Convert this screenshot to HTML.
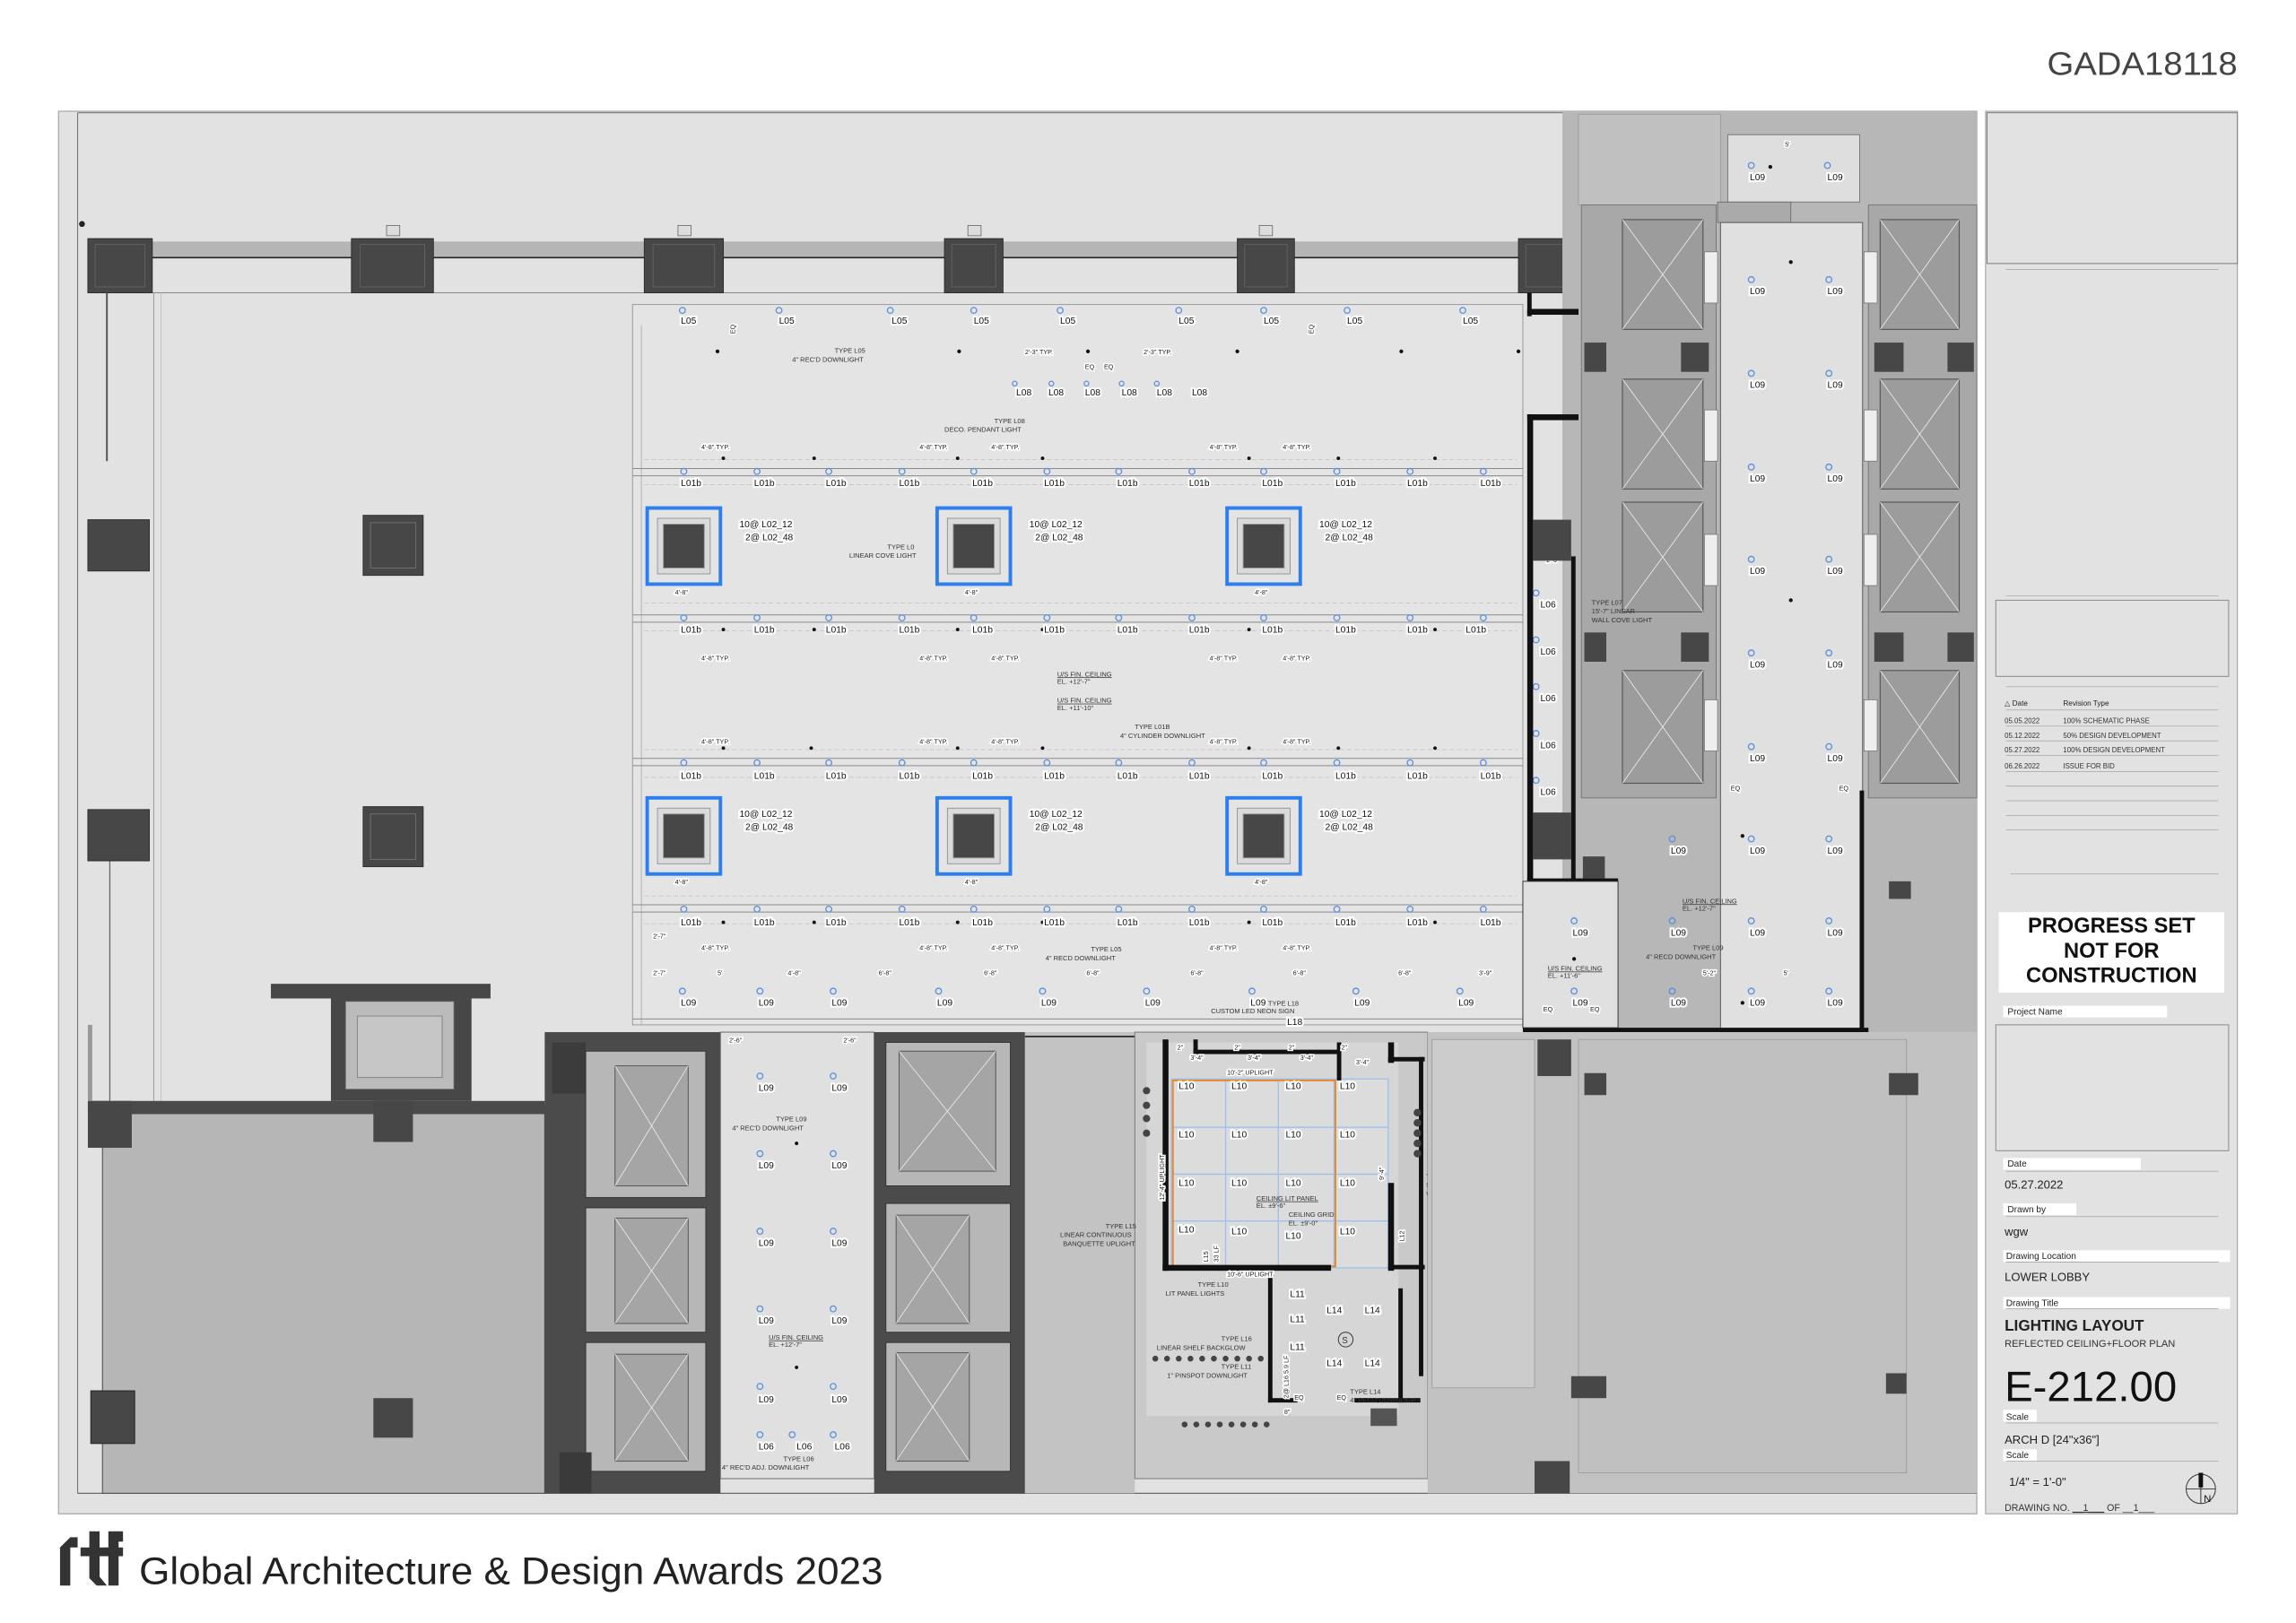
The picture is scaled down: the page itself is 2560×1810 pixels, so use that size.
<!DOCTYPE html>
<html><head><meta charset="utf-8"><style>
html,body{margin:0;padding:0;background:#fff;}
svg{display:block;}
text{font-family:"Liberation Sans",sans-serif;}
.l{font-size:6.3px;fill:#111;stroke:#fff;stroke-width:2.6px;paint-order:stroke;}
.s{font-size:4.6px;fill:#333;}
.d{font-size:4.4px;fill:#222;stroke:#fff;stroke-width:2px;paint-order:stroke;}
.c{fill:none;stroke:#5b8fe0;stroke-width:.8;}
.x{stroke:#eee;stroke-width:.5;}
.tb{font-size:6.2px;fill:#222;}
.tv{font-size:8px;fill:#222;}
</style></head><body>
<svg width="2560" height="1810" viewBox="0 0 1568 1108.6" preserveAspectRatio="none" xmlns="http://www.w3.org/2000/svg">
<rect x="0" y="0" width="1568" height="1109" fill="#fff"/>
<text x="1398" y="51" textLength="130" lengthAdjust="spacingAndGlyphs" style="font-size:22px;fill:#444">GADA18118</text>

<!-- plan frame -->
<rect x="40" y="76" width="1310" height="958" fill="#e2e2e2" stroke="#aaa" stroke-width=".8"/>
<line x1="53" y1="77" x2="53" y2="1020" stroke="#777" stroke-width=".7"/>
<line x1="53" y1="77" x2="1350" y2="77" stroke="#777" stroke-width=".7"/>
<line x1="53" y1="1020" x2="1350" y2="1020" stroke="#666" stroke-width=".8"/>
<circle cx="56" cy="153" r="2" fill="#222"/>

<!-- top beam & columns -->
<rect x="104" y="165" width="936" height="11" fill="#b5b5b5"/>
<line x1="104" y1="176" x2="1040" y2="176" stroke="#222" stroke-width="1"/>
<line x1="104" y1="200" x2="1040" y2="200" stroke="#888" stroke-width=".6"/>
<g fill="#474747" stroke="#2e2e2e" stroke-width=".6">
<rect x="60" y="163" width="44" height="37"/><rect x="240" y="163" width="56" height="37"/>
<rect x="440" y="163" width="54" height="37"/><rect x="645" y="163" width="40" height="37"/>
<rect x="845" y="163" width="39" height="37"/><rect x="1037" y="163" width="41" height="37"/>
</g>
<g fill="none" stroke="#666" stroke-width=".5">
<rect x="65" y="167" width="34" height="29"/><rect x="246" y="167" width="44" height="29"/>
<rect x="446" y="167" width="42" height="29"/><rect x="650" y="167" width="30" height="29"/>
<rect x="850" y="167" width="29" height="29"/><rect x="1042" y="167" width="31" height="29"/>
</g>
<g fill="#ddd" stroke="#666" stroke-width=".5">
<rect x="264" y="154" width="9" height="7"/><rect x="463" y="154" width="9" height="7"/>
<rect x="661" y="154" width="9" height="7"/><rect x="860" y="154" width="9" height="7"/>
</g>
<!-- left wall -->
<line x1="73" y1="200" x2="73" y2="315" stroke="#555" stroke-width="1.2"/>
<line x1="105" y1="200" x2="105" y2="752" stroke="#999" stroke-width=".6"/>
<line x1="110" y1="200" x2="110" y2="752" stroke="#bbb" stroke-width=".5"/>
<line x1="75" y1="588" x2="75" y2="752" stroke="#666" stroke-width=".8"/>
<g fill="#474747" stroke="#2e2e2e" stroke-width=".6">
<rect x="60" y="355" width="42" height="35"/><rect x="60" y="553" width="42" height="35"/>
<rect x="248" y="352" width="41" height="41"/><rect x="248" y="551" width="41" height="41"/>
</g>
<g fill="none" stroke="#777" stroke-width=".5">
<rect x="253" y="357" width="31" height="31"/><rect x="253" y="556" width="31" height="31"/>
</g>

<!-- central ceiling area -->
<rect x="432" y="208" width="608" height="492" fill="#e4e4e4" stroke="#999" stroke-width=".6"/>
<line x1="438" y1="222" x2="438" y2="700" stroke="#aaa" stroke-width=".5"/>
<g stroke="#8a8a8a" stroke-width=".6">
<line x1="432" y1="320" x2="1040" y2="320"/><line x1="432" y1="325" x2="1040" y2="325"/>
<line x1="432" y1="420" x2="1040" y2="420"/><line x1="432" y1="425" x2="1040" y2="425"/>
<line x1="432" y1="518" x2="1040" y2="518"/><line x1="432" y1="523" x2="1040" y2="523"/>
<line x1="432" y1="618" x2="1040" y2="618"/><line x1="432" y1="623" x2="1040" y2="623"/>
<line x1="432" y1="696" x2="1040" y2="696"/>
</g>
<g stroke="#bbb" stroke-width=".4" stroke-dasharray="3 2">
<line x1="440" y1="314" x2="1036" y2="314"/><line x1="440" y1="331" x2="1036" y2="331"/>
<line x1="440" y1="412" x2="1036" y2="412"/><line x1="440" y1="431" x2="1036" y2="431"/>
<line x1="440" y1="512" x2="1036" y2="512"/><line x1="440" y1="531" x2="1036" y2="531"/>
<line x1="440" y1="612" x2="1036" y2="612"/><line x1="440" y1="631" x2="1036" y2="631"/>
</g>

<!-- L05 row -->
<g class="c"><circle cx="466" cy="212" r="2"/><circle cx="532" cy="212" r="2"/><circle cx="608" cy="212" r="2"/><circle cx="665" cy="212" r="2"/><circle cx="724" cy="212" r="2"/><circle cx="805" cy="212" r="2"/><circle cx="863" cy="212" r="2"/><circle cx="920" cy="212" r="2"/><circle cx="999" cy="212" r="2"/></g>
<g class="l"><text x="465" y="221">L05</text><text x="532" y="221">L05</text><text x="609" y="221">L05</text><text x="665" y="221">L05</text><text x="724" y="221">L05</text><text x="805" y="221">L05</text><text x="863" y="221">L05</text><text x="920" y="221">L05</text><text x="999" y="221">L05</text></g>
<g class="d"><text x="495" y="229" transform="rotate(-90 498 225)">EQ</text><text x="890" y="229" transform="rotate(-90 893 225)">EQ</text></g>
<g fill="#111"><circle cx="490" cy="240" r="1.3"/><circle cx="655" cy="240" r="1.3"/><circle cx="743" cy="240" r="1.3"/><circle cx="845" cy="240" r="1.3"/><circle cx="957" cy="240" r="1.3"/><circle cx="1037" cy="240" r="1.3"/></g>
<text class="s" x="570" y="241">TYPE L05</text><text class="s" x="541" y="247">4" REC'D DOWNLIGHT</text>
<g class="d"><text x="700" y="242">2'-3" TYP.</text><text x="781" y="242">2'-3" TYP.</text><text x="741" y="252">EQ</text><text x="754" y="252">EQ</text></g>
<g class="l"><text x="694" y="270">L08</text><text x="716" y="270">L08</text><text x="741" y="270">L08</text><text x="766" y="270">L08</text><text x="790" y="270">L08</text><text x="814" y="270">L08</text></g>
<g class="c"><circle cx="693" cy="262" r="1.6"/><circle cx="718" cy="262" r="1.6"/><circle cx="742" cy="262" r="1.6"/><circle cx="766" cy="262" r="1.6"/><circle cx="790" cy="262" r="1.6"/></g>
<text class="s" x="679" y="289">TYPE L08</text><text class="s" x="645" y="295">DECO. PENDANT LIGHT</text>
<g class="d"><text x="479" y="307">4'-8" TYP.</text><text x="628" y="307">4'-8" TYP.</text><text x="677" y="307">4'-8" TYP.</text><text x="826" y="307">4'-8" TYP.</text><text x="876" y="307">4'-8" TYP.</text>
<text x="479" y="451">4'-8" TYP.</text><text x="628" y="451">4'-8" TYP.</text><text x="677" y="451">4'-8" TYP.</text><text x="826" y="451">4'-8" TYP.</text><text x="876" y="451">4'-8" TYP.</text>
<text x="479" y="508">4'-8" TYP.</text><text x="628" y="508">4'-8" TYP.</text><text x="677" y="508">4'-8" TYP.</text><text x="826" y="508">4'-8" TYP.</text><text x="876" y="508">4'-8" TYP.</text>
<text x="479" y="649">4'-8" TYP.</text><text x="628" y="649">4'-8" TYP.</text><text x="677" y="649">4'-8" TYP.</text><text x="826" y="649">4'-8" TYP.</text><text x="876" y="649">4'-8" TYP.</text>
<text x="446" y="666">2'-7"</text><text x="490" y="666">5'</text><text x="538" y="666">4'-8"</text><text x="600" y="666">6'-8"</text><text x="672" y="666">6'-8"</text><text x="742" y="666">6'-8"</text><text x="813" y="666">6'-8"</text><text x="883" y="666">6'-8"</text><text x="955" y="666">6'-8"</text><text x="1010" y="666">3'-9"</text><text x="446" y="641">2'-7"</text></g>
<g fill="#111"><circle cx="494" cy="313" r="1.2"/><circle cx="556" cy="313" r="1.2"/><circle cx="654" cy="313" r="1.2"/><circle cx="712" cy="313" r="1.2"/><circle cx="853" cy="313" r="1.2"/><circle cx="914" cy="313" r="1.2"/><circle cx="980" cy="313" r="1.2"/>
<circle cx="494" cy="430" r="1.2"/><circle cx="556" cy="430" r="1.2"/><circle cx="654" cy="430" r="1.2"/><circle cx="712" cy="430" r="1.2"/><circle cx="853" cy="430" r="1.2"/><circle cx="914" cy="430" r="1.2"/><circle cx="980" cy="430" r="1.2"/>
<circle cx="494" cy="511" r="1.2"/><circle cx="554" cy="511" r="1.2"/><circle cx="654" cy="511" r="1.2"/><circle cx="712" cy="511" r="1.2"/><circle cx="853" cy="511" r="1.2"/><circle cx="914" cy="511" r="1.2"/><circle cx="980" cy="511" r="1.2"/>
<circle cx="494" cy="630" r="1.2"/><circle cx="556" cy="630" r="1.2"/><circle cx="654" cy="630" r="1.2"/><circle cx="712" cy="630" r="1.2"/><circle cx="853" cy="630" r="1.2"/><circle cx="914" cy="630" r="1.2"/><circle cx="980" cy="630" r="1.2"/></g>

<!-- L01b rows -->
<g class="c">
<circle cx="467" cy="322" r="2"/><circle cx="517" cy="322" r="2"/><circle cx="566" cy="322" r="2"/><circle cx="616" cy="322" r="2"/><circle cx="665" cy="322" r="2"/><circle cx="715" cy="322" r="2"/><circle cx="764" cy="322" r="2"/><circle cx="814" cy="322" r="2"/><circle cx="863" cy="322" r="2"/><circle cx="913" cy="322" r="2"/><circle cx="963" cy="322" r="2"/><circle cx="1013" cy="322" r="2"/>
<circle cx="467" cy="422" r="2"/><circle cx="517" cy="422" r="2"/><circle cx="566" cy="422" r="2"/><circle cx="616" cy="422" r="2"/><circle cx="665" cy="422" r="2"/><circle cx="715" cy="422" r="2"/><circle cx="764" cy="422" r="2"/><circle cx="814" cy="422" r="2"/><circle cx="863" cy="422" r="2"/><circle cx="913" cy="422" r="2"/><circle cx="963" cy="422" r="2"/><circle cx="1013" cy="422" r="2"/>
<circle cx="467" cy="521" r="2"/><circle cx="517" cy="521" r="2"/><circle cx="566" cy="521" r="2"/><circle cx="616" cy="521" r="2"/><circle cx="665" cy="521" r="2"/><circle cx="715" cy="521" r="2"/><circle cx="764" cy="521" r="2"/><circle cx="814" cy="521" r="2"/><circle cx="863" cy="521" r="2"/><circle cx="913" cy="521" r="2"/><circle cx="963" cy="521" r="2"/><circle cx="1013" cy="521" r="2"/>
<circle cx="467" cy="621" r="2"/><circle cx="517" cy="621" r="2"/><circle cx="566" cy="621" r="2"/><circle cx="616" cy="621" r="2"/><circle cx="665" cy="621" r="2"/><circle cx="715" cy="621" r="2"/><circle cx="764" cy="621" r="2"/><circle cx="814" cy="621" r="2"/><circle cx="863" cy="621" r="2"/><circle cx="913" cy="621" r="2"/><circle cx="963" cy="621" r="2"/><circle cx="1013" cy="621" r="2"/>
</g>
<g class="l">
<text x="465" y="332">L01b</text><text x="515" y="332">L01b</text><text x="564" y="332">L01b</text><text x="614" y="332">L01b</text><text x="664" y="332">L01b</text><text x="713" y="332">L01b</text><text x="763" y="332">L01b</text><text x="812" y="332">L01b</text><text x="862" y="332">L01b</text><text x="912" y="332">L01b</text><text x="961" y="332">L01b</text><text x="1011" y="332">L01b</text>
<text x="465" y="432">L01b</text><text x="515" y="432">L01b</text><text x="564" y="432">L01b</text><text x="614" y="432">L01b</text><text x="664" y="432">L01b</text><text x="713" y="432">L01b</text><text x="763" y="432">L01b</text><text x="812" y="432">L01b</text><text x="862" y="432">L01b</text><text x="912" y="432">L01b</text><text x="961" y="432">L01b</text><text x="1001" y="432">L01b</text>
<text x="465" y="532">L01b</text><text x="515" y="532">L01b</text><text x="564" y="532">L01b</text><text x="614" y="532">L01b</text><text x="664" y="532">L01b</text><text x="713" y="532">L01b</text><text x="763" y="532">L01b</text><text x="812" y="532">L01b</text><text x="862" y="532">L01b</text><text x="912" y="532">L01b</text><text x="961" y="532">L01b</text><text x="1011" y="532">L01b</text>
<text x="465" y="632">L01b</text><text x="515" y="632">L01b</text><text x="564" y="632">L01b</text><text x="614" y="632">L01b</text><text x="664" y="632">L01b</text><text x="713" y="632">L01b</text><text x="763" y="632">L01b</text><text x="812" y="632">L01b</text><text x="862" y="632">L01b</text><text x="912" y="632">L01b</text><text x="961" y="632">L01b</text><text x="1011" y="632">L01b</text>
</g>

<!-- blue cove squares -->
<defs>
<g id="cove">
<rect x="-25" y="-26" width="50" height="52" fill="#e4e4e4" stroke="#2d7ff0" stroke-width="2.4"/>
<rect x="-18" y="-19" width="36" height="38" fill="#dadada" stroke="#888" stroke-width=".5"/>
<rect x="-14" y="-15" width="28" height="30" fill="#474747" stroke="#999" stroke-width=".6"/>
</g>
</defs>
<use href="#cove" x="467" y="373"/><use href="#cove" x="665" y="373"/><use href="#cove" x="863" y="373"/>
<use href="#cove" x="467" y="571"/><use href="#cove" x="665" y="571"/><use href="#cove" x="863" y="571"/>
<g class="l">
<text x="505" y="360">10@ L02_12</text><text x="509" y="369">2@ L02_48</text>
<text x="703" y="360">10@ L02_12</text><text x="707" y="369">2@ L02_48</text>
<text x="901" y="360">10@ L02_12</text><text x="905" y="369">2@ L02_48</text>
<text x="505" y="558">10@ L02_12</text><text x="509" y="567">2@ L02_48</text>
<text x="703" y="558">10@ L02_12</text><text x="707" y="567">2@ L02_48</text>
<text x="901" y="558">10@ L02_12</text><text x="905" y="567">2@ L02_48</text>
</g>
<g class="d"><text x="461" y="406">4'-8"</text><text x="659" y="406">4'-8"</text><text x="857" y="406">4'-8"</text><text x="461" y="604">4'-8"</text><text x="659" y="604">4'-8"</text><text x="857" y="604">4'-8"</text></g>
<text class="s" x="606" y="375">TYPE L0</text><text class="s" x="580" y="381">LINEAR COVE LIGHT</text>
<text class="s" x="722" y="462" style="text-decoration:underline">U/S FIN. CEILING</text><text class="s" x="722" y="467">EL. +12'-7"</text>
<text class="s" x="722" y="480" style="text-decoration:underline">U/S FIN. CEILING</text><text class="s" x="722" y="485">EL. +11'-10"</text>
<text class="s" x="775" y="498">TYPE L01B</text><text class="s" x="765" y="504">4" CYLINDER DOWNLIGHT</text>
<text class="s" x="745" y="650">TYPE L05</text><text class="s" x="714" y="656">4" RECD DOWNLIGHT</text>
<!-- L09 row -->
<g class="c"><circle cx="466" cy="677" r="2"/><circle cx="519" cy="677" r="2"/><circle cx="569" cy="677" r="2"/><circle cx="641" cy="677" r="2"/><circle cx="712" cy="677" r="2"/><circle cx="783" cy="677" r="2"/><circle cx="855" cy="677" r="2"/><circle cx="926" cy="677" r="2"/><circle cx="997" cy="677" r="2"/></g>
<g class="l"><text x="465" y="687">L09</text><text x="518" y="687">L09</text><text x="568" y="687">L09</text><text x="640" y="687">L09</text><text x="711" y="687">L09</text><text x="782" y="687">L09</text><text x="854" y="687">L09</text><text x="925" y="687">L09</text><text x="996" y="687">L09</text><text x="879" y="700">L18</text></g>
<text class="s" x="866" y="687">TYPE L18</text><text class="s" x="827" y="692">CUSTOM LED NEON SIGN</text>

<!-- right section -->
<rect x="1067" y="76" width="283" height="629" fill="#b7b7b7"/>
<rect x="1078" y="78" width="97" height="62" fill="#c0c0c0" stroke="#999" stroke-width=".5"/>
<rect x="1180" y="92" width="90" height="46" fill="#dedede" stroke="#777" stroke-width=".6"/>
<rect x="1173" y="138" width="50" height="14" fill="#aaa" stroke="#666" stroke-width=".5"/>
<rect x="1175" y="152" width="97" height="553" fill="#e0e0e0" stroke="#666" stroke-width=".7"/>
<rect x="1080" y="140" width="92" height="405" fill="#a8a8a8" stroke="#777" stroke-width=".6"/>
<rect x="1276" y="140" width="74" height="405" fill="#a8a8a8" stroke="#777" stroke-width=".6"/>
<g fill="#9c9c9c" stroke="#555" stroke-width=".7">
<rect x="1108" y="150" width="55" height="75"/><rect x="1108" y="259" width="55" height="75"/><rect x="1108" y="343" width="55" height="75"/><rect x="1108" y="458" width="55" height="77"/>
<rect x="1284" y="150" width="54" height="75"/><rect x="1284" y="259" width="54" height="75"/><rect x="1284" y="343" width="54" height="75"/><rect x="1284" y="458" width="54" height="77"/>
</g>
<g class="x">
<line x1="1108" y1="150" x2="1163" y2="225"/><line x1="1163" y1="150" x2="1108" y2="225"/>
<line x1="1108" y1="259" x2="1163" y2="334"/><line x1="1163" y1="259" x2="1108" y2="334"/>
<line x1="1108" y1="343" x2="1163" y2="418"/><line x1="1163" y1="343" x2="1108" y2="418"/>
<line x1="1108" y1="458" x2="1163" y2="535"/><line x1="1163" y1="458" x2="1108" y2="535"/>
<line x1="1284" y1="150" x2="1338" y2="225"/><line x1="1338" y1="150" x2="1284" y2="225"/>
<line x1="1284" y1="259" x2="1338" y2="334"/><line x1="1338" y1="259" x2="1284" y2="334"/>
<line x1="1284" y1="343" x2="1338" y2="418"/><line x1="1338" y1="343" x2="1284" y2="418"/>
<line x1="1284" y1="458" x2="1338" y2="535"/><line x1="1338" y1="458" x2="1284" y2="535"/>
</g>
<g fill="#eee" stroke="#777" stroke-width=".5">
<rect x="1164" y="172" width="9" height="35"/><rect x="1164" y="280" width="9" height="35"/><rect x="1164" y="365" width="9" height="35"/><rect x="1164" y="478" width="9" height="35"/>
<rect x="1273" y="172" width="9" height="35"/><rect x="1273" y="280" width="9" height="35"/><rect x="1273" y="365" width="9" height="35"/><rect x="1273" y="478" width="9" height="35"/>
</g>
<g fill="#474747"><rect x="1082" y="234" width="15" height="20"/><rect x="1148" y="234" width="19" height="20"/><rect x="1082" y="432" width="15" height="20"/><rect x="1148" y="432" width="19" height="20"/>
<rect x="1280" y="234" width="20" height="20"/><rect x="1330" y="234" width="18" height="20"/><rect x="1280" y="432" width="20" height="20"/><rect x="1330" y="432" width="18" height="20"/>
<rect x="1290" y="602" width="15" height="12"/><rect x="1081" y="585" width="15" height="15"/></g>
<g class="c">
<circle cx="1196" cy="113" r="2"/><circle cx="1248" cy="113" r="2"/>
<circle cx="1196" cy="191" r="2"/><circle cx="1249" cy="191" r="2"/><circle cx="1196" cy="255" r="2"/><circle cx="1249" cy="255" r="2"/><circle cx="1196" cy="319" r="2"/><circle cx="1249" cy="319" r="2"/><circle cx="1196" cy="382" r="2"/><circle cx="1249" cy="382" r="2"/><circle cx="1196" cy="446" r="2"/><circle cx="1249" cy="446" r="2"/><circle cx="1196" cy="510" r="2"/><circle cx="1249" cy="510" r="2"/>
<circle cx="1142" cy="573" r="2"/><circle cx="1196" cy="573" r="2"/><circle cx="1249" cy="573" r="2"/><circle cx="1142" cy="629" r="2"/><circle cx="1196" cy="629" r="2"/><circle cx="1249" cy="629" r="2"/><circle cx="1142" cy="677" r="2"/><circle cx="1196" cy="677" r="2"/><circle cx="1249" cy="677" r="2"/>
<circle cx="1049" cy="405" r="2"/><circle cx="1049" cy="437" r="2"/><circle cx="1049" cy="469" r="2"/><circle cx="1049" cy="501" r="2"/><circle cx="1049" cy="533" r="2"/>
</g>
<g class="l">
<text x="1195" y="123">L09</text><text x="1248" y="123">L09</text>
<text x="1195" y="201">L09</text><text x="1248" y="201">L09</text><text x="1195" y="265">L09</text><text x="1248" y="265">L09</text><text x="1195" y="329">L09</text><text x="1248" y="329">L09</text><text x="1195" y="392">L09</text><text x="1248" y="392">L09</text><text x="1195" y="456">L09</text><text x="1248" y="456">L09</text><text x="1195" y="520">L09</text><text x="1248" y="520">L09</text>
<text x="1141" y="583">L09</text><text x="1195" y="583">L09</text><text x="1248" y="583">L09</text><text x="1141" y="639">L09</text><text x="1195" y="639">L09</text><text x="1248" y="639">L09</text><text x="1141" y="687">L09</text><text x="1195" y="687">L09</text><text x="1248" y="687">L09</text>
<text x="1052" y="415">L06</text><text x="1052" y="447">L06</text><text x="1052" y="479">L06</text><text x="1052" y="511">L06</text><text x="1052" y="543">L06</text>
</g>
<g class="d"><text x="1219" y="100">5'</text><text x="1182" y="540">EQ</text><text x="1256" y="540">EQ</text><text x="1163" y="666">5'-2"</text><text x="1218" y="666">5'</text><text x="1056" y="384">2'-6"</text></g>
<text class="s" x="1149" y="617" style="text-decoration:underline">U/S FIN. CEILING</text><text class="s" x="1149" y="622">EL. +12'-7"</text>
<text class="s" x="1156" y="649">TYPE L09</text><text class="s" x="1124" y="655">4" RECD DOWNLIGHT</text>
<text class="s" x="1087" y="413">TYPE L07</text><text class="s" x="1087" y="419">15'-7" LINEAR</text><text class="s" x="1087" y="425">WALL COVE LIGHT</text>
<g fill="#111"><circle cx="1209" cy="114" r="1.3"/><circle cx="1223" cy="179" r="1.3"/><circle cx="1223" cy="410" r="1.3"/><circle cx="1190" cy="571" r="1.3"/><circle cx="1190" cy="685" r="1.3"/></g>
<!-- black walls -->
<g fill="#111">
<rect x="1043" y="200" width="3" height="16"/><rect x="1043" y="211" width="35" height="4"/>
<rect x="1043" y="283" width="35" height="4"/><rect x="1043" y="283" width="4" height="320"/>
<rect x="1073" y="380" width="3" height="222"/>
<rect x="1043" y="600" width="62" height="2"/><rect x="1040" y="702" width="236" height="3"/>
<rect x="1270" y="540" width="3" height="165"/>
</g>
<g fill="#474747"><rect x="1047" y="355" width="26" height="28"/><rect x="1047" y="555" width="26" height="32"/></g>
<rect x="1040" y="602" width="65" height="100" fill="#e0e0e0" stroke="#333" stroke-width=".6"/>
<g class="c"><circle cx="1075" cy="629" r="2"/><circle cx="1075" cy="677" r="2"/></g>
<g class="l"><text x="1074" y="639">L09</text><text x="1074" y="687">L09</text></g>
<g class="d"><text x="1054" y="691">EQ</text><text x="1086" y="691">EQ</text></g>
<text class="s" x="1057" y="663" style="text-decoration:underline">U/S FIN. CEILING</text><text class="s" x="1057" y="668">EL. +11'-6"</text>
<circle cx="1075" cy="655" r="1.3" fill="#111"/>

<!-- bottom left -->
<rect x="70" y="755" width="302" height="265" fill="#b6b6b6" stroke="#555" stroke-width=".7"/>
<rect x="60" y="752" width="312" height="9" fill="#4a4a4a"/>
<rect x="60" y="752" width="30" height="32" fill="#474747"/><rect x="255" y="752" width="27" height="28" fill="#474747"/>
<rect x="255" y="955" width="27" height="27" fill="#474747"/><rect x="62" y="950" width="30" height="36" fill="#474747" stroke="#222" stroke-width=".6"/>
<rect x="185" y="672" width="150" height="10" fill="#474747"/>
<rect x="226" y="682" width="96" height="70" fill="#474747"/>
<rect x="236" y="684" width="74" height="60" fill="#bbb" stroke="#666" stroke-width=".5"/>
<rect x="244" y="694" width="58" height="42" fill="#c6c6c6" stroke="#777" stroke-width=".5"/>
<rect x="60" y="700" width="3" height="52" fill="#999"/>

<!-- left elevator bank -->
<rect x="372" y="705" width="120" height="315" fill="#4b4b4b"/>
<rect x="377" y="712" width="23" height="35" fill="#3c3c3c"/>
<g fill="#b7b7b7" stroke="#333" stroke-width=".6">
<rect x="400" y="718" width="82" height="100"/><rect x="400" y="825" width="82" height="85"/><rect x="400" y="917" width="82" height="88"/>
</g>
<g fill="#a5a5a5" stroke="#555" stroke-width=".6">
<rect x="420" y="728" width="50" height="82"/><rect x="420" y="832" width="50" height="72"/><rect x="420" y="925" width="50" height="73"/>
</g>
<g class="x" stroke="#ccc"><line x1="420" y1="728" x2="470" y2="810"/><line x1="470" y1="728" x2="420" y2="810"/><line x1="420" y1="832" x2="470" y2="904"/><line x1="470" y1="832" x2="420" y2="904"/><line x1="420" y1="925" x2="470" y2="998"/><line x1="470" y1="925" x2="420" y2="998"/></g>
<rect x="382" y="992" width="22" height="28" fill="#3a3a3a"/>
<!-- corridor -->
<rect x="492" y="705" width="105" height="305" fill="#e0e0e0" stroke="#666" stroke-width=".6"/>
<g class="c"><circle cx="519" cy="735" r="2"/><circle cx="569" cy="735" r="2"/><circle cx="519" cy="788" r="2"/><circle cx="569" cy="788" r="2"/><circle cx="519" cy="841" r="2"/><circle cx="569" cy="841" r="2"/><circle cx="519" cy="894" r="2"/><circle cx="569" cy="894" r="2"/><circle cx="519" cy="947" r="2"/><circle cx="569" cy="947" r="2"/><circle cx="519" cy="980" r="2"/><circle cx="541" cy="980" r="2"/><circle cx="569" cy="980" r="2"/></g>
<g class="l"><text x="518" y="745">L09</text><text x="568" y="745">L09</text><text x="518" y="798">L09</text><text x="568" y="798">L09</text><text x="518" y="851">L09</text><text x="568" y="851">L09</text><text x="518" y="904">L09</text><text x="568" y="904">L09</text><text x="518" y="958">L09</text><text x="568" y="958">L09</text><text x="518" y="990">L06</text><text x="544" y="990">L06</text><text x="570" y="990">L06</text></g>
<g class="d"><text x="498" y="712">2'-6"</text><text x="576" y="712">2'-6"</text></g>
<text class="s" x="530" y="766">TYPE L09</text><text class="s" x="500" y="772">4" REC'D DOWNLIGHT</text>
<text class="s" x="525" y="915" style="text-decoration:underline">U/S FIN. CEILING</text><text class="s" x="525" y="920">EL. +12'-7"</text>
<text class="s" x="535" y="998">TYPE L06</text><text class="s" x="493" y="1004">4" REC'D ADJ. DOWNLIGHT</text>
<g fill="#111"><circle cx="544" cy="781" r="1.2"/><circle cx="544" cy="934" r="1.2"/></g>
<!-- right elevator bank -->
<rect x="597" y="705" width="103" height="315" fill="#4b4b4b"/>
<g fill="#b7b7b7" stroke="#333" stroke-width=".6">
<rect x="605" y="712" width="85" height="98"/><rect x="605" y="822" width="85" height="88"/><rect x="605" y="917" width="85" height="88"/>
</g>
<g fill="#a5a5a5" stroke="#555" stroke-width=".6">
<rect x="614" y="718" width="66" height="82"/><rect x="612" y="830" width="50" height="74"/><rect x="612" y="924" width="50" height="74"/>
</g>
<g class="x" stroke="#ccc"><line x1="614" y1="718" x2="680" y2="800"/><line x1="680" y1="718" x2="614" y2="800"/><line x1="612" y1="830" x2="662" y2="904"/><line x1="662" y1="830" x2="612" y2="904"/><line x1="612" y1="924" x2="662" y2="998"/><line x1="662" y1="924" x2="612" y2="998"/></g>
<!-- mid grey -->
<rect x="700" y="705" width="75" height="315" fill="#c3c3c3"/>
<line x1="700" y1="708" x2="775" y2="708" stroke="#333" stroke-width="1.2"/>
<!-- central room -->
<rect x="775" y="705" width="200" height="305" fill="#c9c9c9" stroke="#777" stroke-width=".6"/>
<rect x="783" y="712" width="172" height="255" fill="#d6d6d6"/>
<rect x="800" y="737" width="148" height="129" fill="#dcdcdc"/>
<g stroke="#9cc0ee" stroke-width=".8" fill="none">
<rect x="800" y="737" width="148" height="129"/>
<line x1="837" y1="737" x2="837" y2="866"/><line x1="873" y1="737" x2="873" y2="866"/><line x1="911" y1="737" x2="911" y2="866"/>
<line x1="800" y1="770" x2="948" y2="770"/><line x1="800" y1="802" x2="948" y2="802"/><line x1="800" y1="834" x2="948" y2="834"/>
</g>
<rect x="801" y="738" width="111" height="127" fill="none" stroke="#e8892a" stroke-width="1.2"/>
<g fill="#111">
<rect x="794" y="710" width="4" height="158"/><rect x="794" y="864" width="115" height="4"/>
<rect x="815" y="710" width="3" height="10"/><rect x="815" y="717" width="100" height="3"/><rect x="913" y="712" width="3" height="26"/>
<rect x="948" y="712" width="4" height="14"/><rect x="948" y="722" width="25" height="3"/><rect x="969" y="722" width="3" height="218"/>
<rect x="948" y="808" width="4" height="60"/><rect x="948" y="864" width="25" height="3"/>
<rect x="866" y="868" width="3" height="90"/><rect x="866" y="955" width="20" height="3"/><rect x="925" y="955" width="45" height="3"/><rect x="955" y="880" width="3" height="78"/>
</g>
<g fill="#444"><circle cx="968" cy="760" r="2.6"/><circle cx="968" cy="767" r="2.6"/><circle cx="968" cy="774" r="2.6"/><circle cx="968" cy="781" r="2.6"/><circle cx="968" cy="788" r="2.6"/>
<circle cx="783" cy="745" r="2.5"/><circle cx="783" cy="755" r="2.5"/><circle cx="783" cy="764" r="2.5"/><circle cx="783" cy="774" r="2.5"/>
<circle cx="789" cy="928" r="2"/><circle cx="797" cy="928" r="2"/><circle cx="805" cy="928" r="2"/><circle cx="813" cy="928" r="2"/><circle cx="821" cy="928" r="2"/><circle cx="829" cy="928" r="2"/><circle cx="837" cy="928" r="2"/><circle cx="845" cy="928" r="2"/><circle cx="853" cy="928" r="2"/><circle cx="861" cy="928" r="2"/>
<circle cx="809" cy="973" r="2"/><circle cx="817" cy="973" r="2"/><circle cx="825" cy="973" r="2"/><circle cx="833" cy="973" r="2"/><circle cx="841" cy="973" r="2"/><circle cx="849" cy="973" r="2"/><circle cx="857" cy="973" r="2"/><circle cx="865" cy="973" r="2"/></g>
<g class="l">
<text x="805" y="744">L10</text><text x="841" y="744">L10</text><text x="878" y="744">L10</text><text x="915" y="744">L10</text>
<text x="805" y="777">L10</text><text x="841" y="777">L10</text><text x="878" y="777">L10</text><text x="915" y="777">L10</text>
<text x="805" y="810">L10</text><text x="841" y="810">L10</text><text x="878" y="810">L10</text><text x="915" y="810">L10</text>
<text x="805" y="842">L10</text><text x="841" y="843">L10</text><text x="878" y="846">L10</text><text x="915" y="843">L10</text>
<text x="881" y="886">L11</text><text x="881" y="903">L11</text><text x="881" y="922">L11</text><text x="906" y="897">L14</text><text x="932" y="897">L14</text><text x="906" y="933">L14</text><text x="932" y="933">L14</text>
</g>
<g class="d"><text x="838" y="734">10'-2" UPLIGHT</text><text x="838" y="872">10'-6" UPLIGHT</text><text x="804" y="717">2"</text><text x="813" y="724">3'-4"</text><text x="843" y="717">2"</text><text x="852" y="724">3'-4"</text><text x="880" y="717">2"</text><text x="888" y="724">3'-4"</text><text x="916" y="717">2"</text><text x="926" y="727">3'-4"</text><text x="884" y="956">EQ</text><text x="913" y="956">EQ</text><text x="877" y="966">8"</text></g>
<text class="d" transform="translate(795 820) rotate(-90)">12'-4" UPLIGHT</text>
<text class="d" transform="translate(825 862) rotate(-90)">L15</text><text class="d" transform="translate(832 862) rotate(-90)">33 LF</text>
<text class="d" transform="translate(945 806) rotate(-90)">9'-4"</text><text class="d" transform="translate(959 848) rotate(-90)">L12</text>
<text class="d" transform="translate(880 955) rotate(-90)">2@ L16 5.9 LF</text>
<text class="s" x="858" y="820" style="text-decoration:underline">CEILING LIT PANEL</text><text class="s" x="858" y="825">EL. ±9'-6"</text>
<text class="s" x="880" y="831">CEILING GRID</text><text class="s" x="880" y="837">EL. ±9'-0"</text>
<text class="s" x="755" y="839">TYPE L15</text><text class="s" x="724" y="845">LINEAR CONTINUOUS</text><text class="s" x="726" y="851">BANQUETTE UPLIGHT</text>
<text class="s" x="818" y="879">TYPE L10</text><text class="s" x="796" y="885">LIT PANEL LIGHTS</text>
<text class="s" x="834" y="916">TYPE L16</text><text class="s" x="790" y="922">LINEAR SHELF BACKGLOW</text>
<text class="s" x="834" y="935">TYPE L11</text><text class="s" x="797" y="941">1" PINSPOT DOWNLIGHT</text>
<text class="s" x="922" y="952">TYPE L14</text><text class="s" x="922" y="958">4" RECD DOWNLIGHT</text>
<text class="s" x="974" y="805">TYPE L12</text><text class="s" x="974" y="811">9'-4" LINEAR</text><text class="s" x="974" y="817">WALL COVE LIGHT</text>
<circle cx="919" cy="915" r="5" fill="none" stroke="#333" stroke-width=".6"/><text x="916.5" y="917.5" style="font-size:6px;fill:#333">S</text>
<rect x="936" y="962" width="18" height="12" fill="#555"/>
<!-- right bottom -->
<rect x="975" y="705" width="375" height="315" fill="#c2c2c2"/>
<rect x="978" y="710" width="70" height="238" fill="#cccccc" stroke="#999" stroke-width=".5"/>
<rect x="1078" y="710" width="224" height="296" fill="#c0c0c0" stroke="#999" stroke-width=".5"/>
<g fill="#474747"><rect x="1050" y="710" width="23" height="25"/><rect x="1082" y="733" width="15" height="15"/><rect x="1290" y="733" width="20" height="15"/><rect x="1073" y="940" width="24" height="15"/><rect x="1288" y="938" width="14" height="14"/><rect x="1048" y="998" width="24" height="22"/></g>

<!-- title block -->
<rect x="1356" y="76" width="172" height="958" fill="#e2e2e2" stroke="#999" stroke-width=".6"/>
<rect x="1357" y="77" width="171" height="103" fill="#e2e2e2" stroke="#777" stroke-width=".6"/>
<line x1="1370" y1="184" x2="1515" y2="184" stroke="#aaa" stroke-width=".5"/>
<line x1="1370" y1="407" x2="1515" y2="407" stroke="#aaa" stroke-width=".5"/>
<rect x="1363" y="410" width="159" height="52" fill="none" stroke="#888" stroke-width=".6"/>
<line x1="1370" y1="469" x2="1515" y2="469" stroke="#aaa" stroke-width=".5"/>
<text class="tb" x="1369" y="482" style="font-size:5px">△ Date</text><text class="tb" x="1409" y="482" style="font-size:5px">Revision Type</text>
<line x1="1370" y1="485" x2="1515" y2="485" stroke="#999" stroke-width=".4"/>
<g style="font-size:4.8px;fill:#333">
<text x="1369" y="494">05.05.2022</text><text x="1409" y="494">100% SCHEMATIC PHASE</text>
<text x="1369" y="504">05.12.2022</text><text x="1409" y="504">50% DESIGN DEVELOPMENT</text>
<text x="1369" y="514">05.27.2022</text><text x="1409" y="514">100% DESIGN DEVELOPMENT</text>
<text x="1369" y="525">06.26.2022</text><text x="1409" y="525">ISSUE FOR BID</text></g>
<g stroke="#999" stroke-width=".4"><line x1="1370" y1="496" x2="1515" y2="496"/><line x1="1370" y1="506" x2="1515" y2="506"/><line x1="1370" y1="516" x2="1515" y2="516"/><line x1="1370" y1="527" x2="1515" y2="527"/><line x1="1370" y1="537" x2="1515" y2="537"/><line x1="1370" y1="547" x2="1515" y2="547"/><line x1="1370" y1="557" x2="1515" y2="557"/><line x1="1370" y1="567" x2="1515" y2="567"/><line x1="1373" y1="597" x2="1515" y2="597"/></g>
<rect x="1365" y="623" width="154" height="55" fill="#fff"/>
<g style="font-size:14.5px;font-weight:bold;fill:#111" text-anchor="middle">
<text x="1442" y="637">PROGRESS SET</text><text x="1442" y="654">NOT FOR</text><text x="1442" y="671">CONSTRUCTION</text></g>
<rect x="1368" y="687" width="112" height="8" fill="#fff"/><text class="tb" x="1371" y="693">Project Name</text>
<rect x="1363" y="700" width="159" height="86" fill="none" stroke="#888" stroke-width=".6"/>
<rect x="1368" y="791" width="94" height="8" fill="#fff"/><text class="tb" x="1371" y="797">Date</text>
<line x1="1370" y1="800" x2="1515" y2="800" stroke="#999" stroke-width=".4"/>
<text class="tv" x="1369" y="812">05.27.2022</text>
<rect x="1368" y="822" width="50" height="8" fill="#fff"/><text class="tb" x="1371" y="828">Drawn by</text>
<line x1="1370" y1="831" x2="1515" y2="831" stroke="#999" stroke-width=".4"/>
<text class="tv" x="1369" y="844">wgw</text>
<rect x="1368" y="854" width="155" height="8" fill="#fff"/><text class="tb" x="1370" y="860">Drawing Location</text>
<line x1="1370" y1="862" x2="1515" y2="862" stroke="#999" stroke-width=".4"/>
<text class="tv" x="1369" y="875">LOWER LOBBY</text>
<rect x="1368" y="886" width="155" height="8" fill="#fff"/><text class="tb" x="1370" y="892">Drawing Title</text>
<line x1="1370" y1="894" x2="1515" y2="894" stroke="#999" stroke-width=".4"/>
<text x="1369" y="909" style="font-size:10.5px;font-weight:bold;fill:#222">LIGHTING LAYOUT</text>
<text x="1369" y="920" style="font-size:6.8px;fill:#333">REFLECTED CEILING+FLOOR PLAN</text>
<text x="1369" y="957" style="font-size:29px;fill:#111">E-212.00</text>
<rect x="1368" y="963" width="23" height="8" fill="#fff"/><text class="tb" x="1370" y="970">Scale</text>
<line x1="1370" y1="972" x2="1515" y2="972" stroke="#999" stroke-width=".4"/>
<text class="tv" x="1369" y="986">ARCH D [24"x36"]</text>
<rect x="1368" y="990" width="23" height="8" fill="#fff"/><text class="tb" x="1370" y="996">Scale</text>
<line x1="1370" y1="998" x2="1515" y2="998" stroke="#999" stroke-width=".4"/>
<text class="tv" x="1372" y="1015">1/4" = 1'-0"</text>
<text x="1369" y="1032" style="font-size:6.5px;fill:#333">DRAWING NO. <tspan text-decoration="underline">__1___</tspan> OF <tspan>__1___</tspan></text>
<circle cx="1503" cy="1017" r="10" fill="none" stroke="#333" stroke-width=".6"/>
<line x1="1493" y1="1017" x2="1513" y2="1017" stroke="#333" stroke-width=".6"/><line x1="1503" y1="1007" x2="1503" y2="1027" stroke="#333" stroke-width=".6"/>
<rect x="1501.5" y="1006" width="3" height="10" fill="#111"/>
<text x="1505" y="1026" style="font-size:7px;fill:#111">N</text>

<!-- footer -->
<g fill="#333">
<polygon points="41,1057 48,1050 53,1050 53,1057 48,1057 48,1083 41,1083"/>
<polygon points="55,1057 61,1057 61,1046 68,1046 68,1057 73,1057 73,1063 68,1063 68,1077 73,1083 66,1083 61,1078 61,1063 55,1063"/>
<polygon points="74,1046 84,1046 84,1053 81,1053 81,1057 84,1057 84,1063 81,1063 81,1083 74,1083 74,1063 72,1063 72,1057 74,1057"/>
</g>
<text x="95" y="1082" textLength="508" lengthAdjust="spacingAndGlyphs" style="font-size:26px;fill:#222">Global Architecture &amp; Design Awards 2023</text>
</svg>
</body></html>
